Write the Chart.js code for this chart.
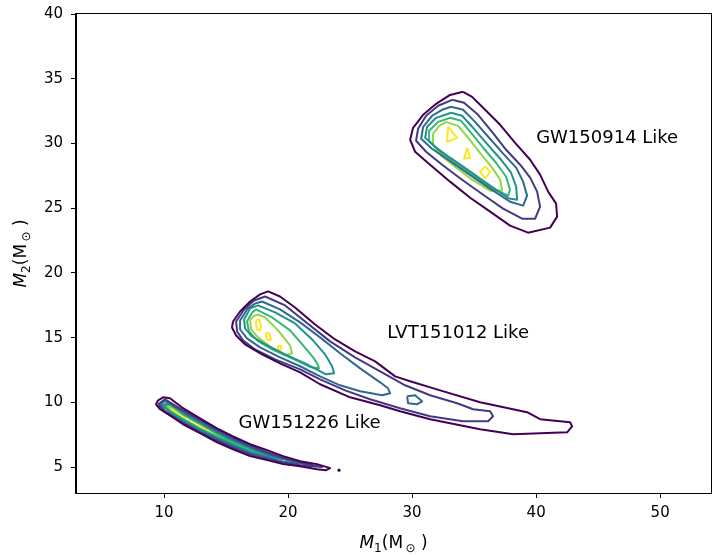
<!DOCTYPE html>
<html><head><meta charset="utf-8">
<script src="https://cdn.jsdelivr.net/npm/chart.js@4/dist/chart.umd.min.js"></script>
<style>html,body{margin:0;padding:0;background:#fff}canvas{display:block}</style>
</head><body>
<canvas id="c" width="712" height="555"></canvas>
<script>
const xTicks=[10,20,30,40,50];
const yTicks=[5,10,15,20,25,30,35,40];
const xRange=[2.9,54.1];
const yRange=[3.0,40];
const levelColors=['#440154','#443983','#31688e','#21918c','#35b779','#90d743','#fde725'];
const eventLabels=['GW150914 Like','LVT151012 Like','GW151226 Like'];
const labelX=[40,28,16];
const labelY=[30,15,8];

// GW150914 contours (M1, M2)
const gw150914_c0=[[34.11,33.99],[34.84,33.60],[35.89,32.60],[37.10,31.44],[38.31,30.05],[39.52,28.74],[40.32,27.59],[40.97,26.28],[41.61,25.35],[41.69,24.35],[41.13,23.50],[39.35,23.11],[37.90,23.65],[36.29,24.73],[34.68,25.81],[33.06,27.05],[31.45,28.36],[30.24,29.36],[29.84,30.29],[30.08,31.21],[30.89,32.21],[31.94,33.06],[33.06,33.75]];
const gw150914_c1=[[33.23,33.37],[34.19,33.14],[35.32,32.21],[36.45,30.90],[37.58,29.51],[38.71,28.36],[39.52,27.36],[40.08,26.28],[40.32,25.12],[39.92,24.19],[38.87,24.19],[37.34,24.97],[35.73,26.04],[34.03,27.20],[32.42,28.36],[31.13,29.36],[30.32,30.21],[30.48,31.13],[31.13,32.14],[32.10,32.91]];
const gw150914_c2=[[33.15,32.83],[34.11,32.60],[35.08,31.67],[36.21,30.44],[37.34,29.21],[38.39,28.13],[38.95,27.05],[39.27,25.97],[38.95,25.20],[37.90,25.50],[36.29,26.51],[34.52,27.66],[32.90,28.74],[31.61,29.59],[30.73,30.36],[30.89,31.29],[31.61,32.14],[32.42,32.60]];
const gw150914_c3=[[33.15,32.37],[34.03,32.14],[34.92,31.21],[35.97,30.05],[37.10,28.82],[37.98,27.74],[38.39,26.66],[38.47,25.66],[37.82,25.74],[36.29,26.74],[34.60,27.89],[33.06,28.90],[31.85,29.75],[31.05,30.44],[31.21,31.29],[31.94,31.98]];
const gw150914_c4=[[33.06,31.98],[33.95,31.75],[34.76,30.82],[35.73,29.67],[36.77,28.51],[37.58,27.43],[37.90,26.43],[37.74,25.97],[36.69,26.43],[35.08,27.43],[33.47,28.51],[32.26,29.36],[31.37,30.21],[31.37,30.98],[32.10,31.67]];
const gw150914_c5=[[32.74,31.67],[33.71,31.36],[34.52,30.44],[35.48,29.28],[36.45,28.13],[37.10,27.20],[37.26,26.35],[36.29,26.35],[34.84,27.20],[33.47,28.20],[32.34,29.05],[31.69,29.90],[31.69,30.75],[32.18,31.36]];
const gw150914_c6a=[[32.90,31.29],[33.63,30.44],[32.82,30.13]];
const gw150914_c6b=[[34.44,29.67],[34.68,28.90],[34.19,28.82]];
const gw150914_c6c=[[35.89,28.25],[36.29,27.79],[35.89,27.33],[35.48,27.79]];

// LVT151012 contours
const lvt151012_c0=[[15.56,16.25],[16.13,17.02],[16.94,17.79],[17.74,18.34],[18.39,18.57],[19.35,18.18],[20.56,17.33],[22.18,16.02],[23.79,14.86],[25.40,13.94],[27.02,13.17],[28.63,12.01],[29.84,11.63],[32.26,10.93],[35.48,10.01],[39.27,9.24],[40.32,8.70],[42.74,8.46],[42.90,8.15],[42.50,7.69],[38.15,7.54],[35.48,7.93],[31.45,8.70],[29.03,9.31],[27.42,9.78],[25.00,10.39],[22.58,11.40],[20.97,12.32],[19.35,13.01],[17.90,13.71],[16.53,14.48],[15.81,15.17],[15.48,15.79]];
const lvt151012_c1=[[17.26,17.87],[18.15,18.18],[19.76,17.49],[21.37,16.25],[23.39,14.71],[25.40,13.48],[27.42,12.40],[29.44,11.32],[31.45,10.55],[33.63,9.93],[34.92,9.47],[36.29,9.31],[36.53,8.93],[36.13,8.54],[34.11,8.54],[31.45,8.93],[29.03,9.55],[26.61,10.24],[24.60,10.93],[22.58,11.78],[20.97,12.55],[18.95,13.32],[17.34,14.09],[16.37,14.79],[15.89,15.48],[15.81,16.25],[16.45,17.18]];
const lvt151012_c2=[[17.34,17.64],[17.90,17.79],[19.35,17.18],[20.97,16.18],[22.58,15.02],[24.19,13.79],[25.81,12.63],[27.42,11.55],[28.06,11.09],[28.23,10.70],[27.58,10.55],[25.81,10.86],[24.19,11.32],[22.58,12.01],[20.97,12.79],[19.35,13.48],[17.74,14.25],[16.69,14.94],[16.13,15.63],[16.13,16.33],[16.69,17.18]];
const lvt151012_c2b=[[29.60,10.47],[30.24,10.55],[30.81,10.08],[30.40,9.85],[29.68,9.93]];
const lvt151012_c3=[[16.94,17.26],[17.58,17.49],[18.95,16.95],[20.56,16.10],[21.94,14.86],[22.98,13.71],[23.55,12.79],[23.71,12.25],[23.06,12.17],[21.37,13.01],[19.76,13.71],[18.15,14.48],[17.10,15.09],[16.53,15.71],[16.45,16.41]];
const lvt151012_c4=[[17.10,16.95],[17.42,17.18],[18.71,16.56],[20.16,15.56],[21.21,14.40],[22.02,13.48],[22.34,13.01],[22.50,12.63],[21.85,12.71],[20.32,13.40],[18.71,14.09],[17.50,14.79],[16.85,15.48],[16.69,16.25]];
const lvt151012_c5=[[16.94,16.33],[17.18,16.64],[17.58,16.79],[18.15,16.56],[19.19,15.56],[20.16,14.40],[20.32,13.79],[19.76,13.63],[18.63,14.25],[17.58,15.02],[17.02,15.63]];
const lvt151012_c6a=[[17.42,16.33],[17.66,16.41],[17.82,15.94],[17.74,15.56],[17.50,15.63],[17.42,16.02]];
const lvt151012_c6b=[[18.23,15.40],[18.47,15.33],[18.63,14.86],[18.39,14.79],[18.23,15.09]];
const lvt151012_c6c=[[19.19,14.40],[19.44,14.33],[19.44,14.09],[19.19,14.09]];

// GW151226 contours
const gw151226_c0=[[9.52,10.16],[9.92,10.39],[10.48,10.32],[11.53,9.55],[12.90,8.77],[14.27,8.00],[15.56,7.38],[16.94,6.77],[18.31,6.31],[19.60,5.85],[20.97,5.46],[22.34,5.23],[23.39,4.92],[23.06,4.76],[22.34,4.84],[20.97,5.07],[19.60,5.23],[18.31,5.54],[16.94,5.85],[15.56,6.38],[14.27,6.92],[12.90,7.62],[11.53,8.31],[10.48,9.00],[9.68,9.47],[9.35,9.85]];
const gw151226_c1=[[9.52,9.85],[10.08,10.24],[11.53,9.39],[12.90,8.66],[14.27,7.89],[15.56,7.27],[16.94,6.65],[18.31,6.15],[19.60,5.73],[20.97,5.38],[22.74,5.00],[20.97,5.15],[19.60,5.34],[18.31,5.61],[16.94,5.96],[15.56,6.50],[14.27,7.04],[12.90,7.66],[11.53,8.39],[10.08,9.24]];
const gw151226_c2=[[9.68,9.85],[10.08,10.12],[11.53,9.28],[12.90,8.54],[14.27,7.77],[15.56,7.15],[16.94,6.54],[18.31,6.04],[19.60,5.65],[21.61,5.23],[19.60,5.42],[18.31,5.73],[16.94,6.08],[15.56,6.62],[14.27,7.15],[12.90,7.77],[11.53,8.50],[10.08,9.35]];
const gw151226_c3=[[9.84,9.82],[10.48,9.93],[11.53,9.16],[12.90,8.43],[14.27,7.66],[15.56,7.04],[16.94,6.46],[18.31,5.96],[20.56,5.46],[18.31,5.81],[16.94,6.15],[15.56,6.73],[14.27,7.27],[12.90,7.89],[11.53,8.62],[10.48,9.24]];
const gw151226_c4=[[10.00,9.74],[10.48,9.82],[11.53,9.08],[12.90,8.35],[14.27,7.58],[15.56,6.96],[16.94,6.38],[18.95,5.81],[16.94,6.23],[15.56,6.81],[14.27,7.35],[12.90,7.96],[11.53,8.70],[10.48,9.31]];
const gw151226_c5=[[10.16,9.66],[10.65,9.62],[11.53,9.04],[12.90,8.31],[14.27,7.54],[15.56,6.92],[17.34,6.35],[15.56,6.85],[14.27,7.39],[12.90,8.00],[11.53,8.74],[10.65,9.31]];
const gw151226_c6a=[[10.32,9.62],[11.69,8.89],[11.69,8.66],[10.32,9.39]];
const gw151226_c6b=[[12.02,8.74],[13.39,8.00],[13.39,7.81],[12.02,8.50]];
const gw151226_c6c=[[13.71,7.85],[15.00,7.31],[15.00,7.08],[13.71,7.62]];
const gw151226_c6d=[[15.32,7.12],[16.29,6.69],[16.29,6.46],[15.32,6.90]];
const gw151226_dot=[[24.11,4.76]];

const contourList=[
  [0,gw150914_c0],[1,gw150914_c1],[2,gw150914_c2],[3,gw150914_c3],[4,gw150914_c4],[5,gw150914_c5],[6,gw150914_c6a],[6,gw150914_c6b],[6,gw150914_c6c],
  [0,lvt151012_c0],[1,lvt151012_c1],[2,lvt151012_c2],[2,lvt151012_c2b],[3,lvt151012_c3],[4,lvt151012_c4],[5,lvt151012_c5],[6,lvt151012_c6a],[6,lvt151012_c6b],[6,lvt151012_c6c],
  [0,gw151226_c0],[1,gw151226_c1],[2,gw151226_c2],[3,gw151226_c3],[4,gw151226_c4],[5,gw151226_c5],[6,gw151226_c6a],[6,gw151226_c6b],[6,gw151226_c6c],[6,gw151226_c6d]
];

const datasets=contourList.map(([lvl,pts])=>({
  type:'scatter',
  data:pts.concat([pts[0]]).map(p=>({x:p[0],y:p[1]})),
  showLine:true, fill:false, tension:0,
  borderColor:levelColors[lvl], borderWidth:2, borderJoinStyle:'round',
  pointRadius:0, pointHoverRadius:0
}));
datasets.push({type:'scatter',data:gw151226_dot.map(p=>({x:p[0],y:p[1]})),showLine:false,
  pointRadius:1.6,pointBackgroundColor:levelColors[0],pointBorderWidth:0,borderColor:levelColors[0]});

const FONT='DejaVu Sans';
const framePlugin={
  id:'frame',
  afterDraw(chart){
    const {ctx,chartArea:a}=chart;
    ctx.save();
    ctx.strokeStyle='#000';ctx.lineWidth=1;
    ctx.strokeRect(Math.round(a.left)-0.5,Math.round(a.top)-0.5,Math.round(a.right-a.left)+1,Math.round(a.bottom-a.top)+1);
    ctx.restore();
  }
};
const labelPlugin={
  id:'eventLabels',
  afterDatasetsDraw(chart){
    const {ctx}=chart;const xs=chart.scales.x, ys=chart.scales.y;
    ctx.save();
    ctx.fillStyle='#000';ctx.font='18px "'+FONT+'"';ctx.textAlign='left';ctx.textBaseline='alphabetic';
    eventLabels.forEach((t,i)=>ctx.fillText(t,xs.getPixelForValue(labelX[i]),ys.getPixelForValue(labelY[i])));
    ctx.restore();
  }
};
function drawRich(ctx,parts,cx,baseY){
  const big=17, small=12;
  const fontOf=p=>(p.it?'italic ':'')+(p.sub?small:big)+'px "'+FONT+'"';
  let w=0;parts.forEach(p=>{ctx.font=fontOf(p);p.w=ctx.measureText(p.t).width;w+=p.w;});
  let x=cx-w/2;
  parts.forEach(p=>{ctx.font=fontOf(p);ctx.fillText(p.t,x,baseY+(p.sub?3.5:0));x+=p.w;});
}
const titlePlugin={
  id:'axisTitles',
  afterDraw(chart){
    const {ctx,chartArea:a}=chart;
    ctx.save();ctx.fillStyle='#000';ctx.textAlign='left';ctx.textBaseline='alphabetic';
    drawRich(ctx,[{t:'M',it:1},{t:'1',sub:1},{t:'(M'},{t:'\u2009\u2299',sub:1},{t:' )'}],(a.left+a.right)/2,548);
    ctx.translate(26,(a.top+a.bottom)/2);ctx.rotate(-Math.PI/2);
    drawRich(ctx,[{t:'M',it:1},{t:'2',sub:1},{t:'(M'},{t:'\u2009\u2299',sub:1},{t:' )'}],0,0);
    ctx.restore();
  }
};

const axisCommon={
  type:'linear',
  grid:{display:true,drawOnChartArea:false,drawTicks:true,tickLength:5,color:'#000',lineWidth:1},
  border:{display:true,color:'#000',width:1},
  title:{display:false}
};
new Chart(document.getElementById('c'),{
  data:{datasets},
  options:{
    responsive:false,animation:false,devicePixelRatio:1,
    layout:{autoPadding:false,padding:{left:0,right:1,top:14,bottom:0}},
    plugins:{legend:{display:false},tooltip:{enabled:false}},
    events:[],
    scales:{
      x:Object.assign({},axisCommon,{min:xRange[0],max:xRange[1],position:'bottom',
        afterBuildTicks:s=>{s.ticks=xTicks.map(v=>({value:v}));},
        afterFit:s=>{s.height=62;s.paddingLeft=0;s.paddingRight=0;},
        ticks:{font:{family:FONT,size:15},color:'#000',padding:6,maxRotation:0,autoSkip:false}}),
      y:Object.assign({},axisCommon,{min:yRange[0],max:yRange[1],position:'left',
        afterBuildTicks:s=>{s.ticks=yTicks.map(v=>({value:v}));},
        afterFit:s=>{s.width=76;s.paddingTop=0;s.paddingBottom=0;},
        ticks:{font:{family:FONT,size:15},color:'#000',padding:8,autoSkip:false}})
    }
  },
  plugins:[framePlugin,labelPlugin,titlePlugin]
});
</script>
</body></html>
